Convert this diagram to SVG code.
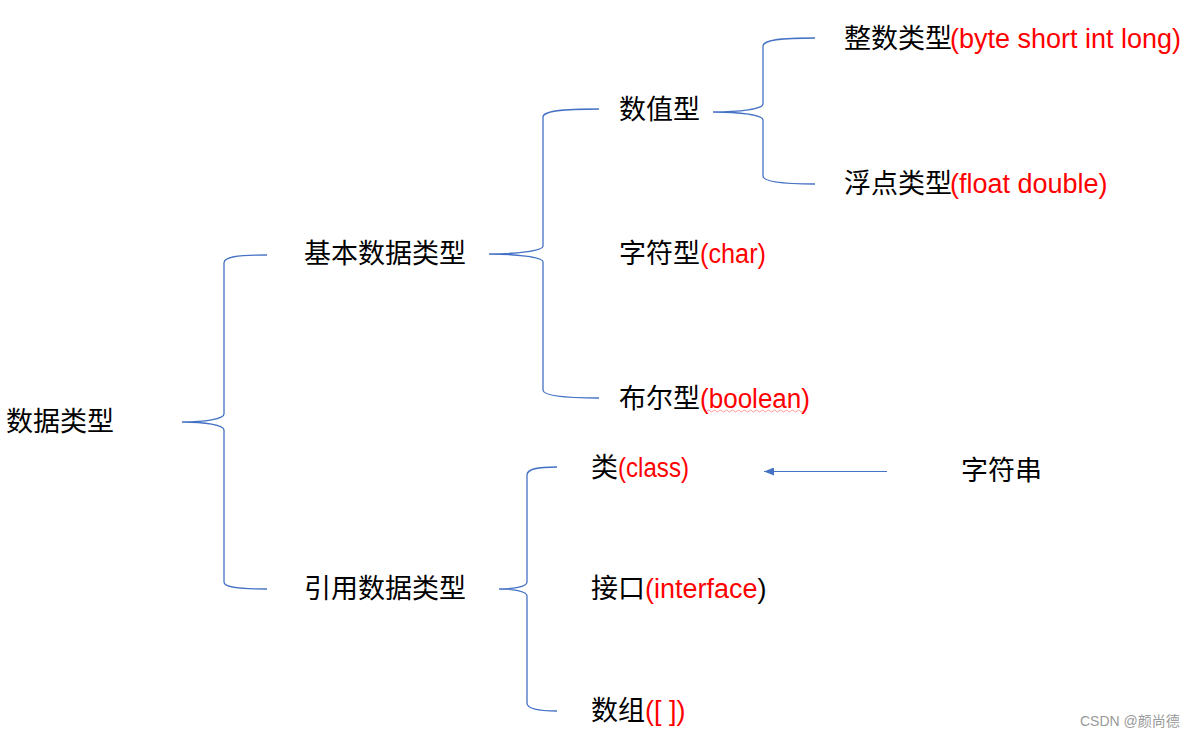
<svg xmlns="http://www.w3.org/2000/svg" width="1194" height="739" viewBox="0 0 1194 739">
<defs>
<marker id="ah" markerWidth="10" markerHeight="8" refX="10" refY="4" orient="auto" markerUnits="userSpaceOnUse">
<path d="M0,0 L10,4 L0,8 Z" fill="#4472C4"/>
</marker>
<style>
.br{fill:none;stroke:#4472C4;stroke-width:1.3}
.cn{font-family:"Noto Sans CJK SC","Liberation Sans",sans-serif;font-size:27px;fill:#000}
.en{font-family:"Liberation Sans","Noto Sans CJK SC",sans-serif;font-size:27px;fill:#FF0000}
.bk{fill:#000}
.wm{font-family:"Liberation Sans","Noto Sans CJK SC",sans-serif;font-size:14px;fill:#9a9a9a}
</style>
</defs>
<rect width="1194" height="739" fill="#fff"/>
<g id="connectors">
<path class="br" d="M267,255 C236,255 224,257 224,263 L224,414 C224,419 205,422 182,422 C205,422 224,425 224,430 L224,582 C224,587 236,589 267,589"/>
<path class="br" d="M599,109 C562,109 543,111 543,117 L543,246 C543,251 515,254 489,254 C515,254 543,257 543,262 L543,390 C543,395 562,398 599,398"/>
<path class="br" d="M815,38 C780,38 763,40 763,46 L763,104 C763,109 740,112 713,112 C740,112 763,115 763,120 L763,176 C763,181 780,184 815,184"/>
<path class="br" d="M557,467 C537,467 527,469 527,475 L527,582 C527,587 512,589 499,589 C512,589 527,591 527,596 L527,703 C527,708 537,711 557,711"/>
<line x1="887" y1="471.5" x2="764" y2="471.5" stroke="#4472C4" stroke-width="1.2" marker-end="url(#ah)"/>
</g>
<g id="n-root"><text class="cn" x="6" y="431">数据类型</text></g>
<g id="n-basic"><text class="cn" x="304" y="263">基本数据类型</text></g>
<g id="n-ref"><text class="cn" x="304" y="598">引用数据类型</text></g>
<g id="n-numeric"><text class="cn" x="619" y="119">数值型</text></g>
<g id="n-char"><text class="cn" x="619" y="263">字符型</text><text class="en" x="700" y="263" textLength="66" lengthAdjust="spacingAndGlyphs">(char)</text></g>
<g id="n-bool"><text class="cn" x="619" y="408">布尔型</text><text class="en" x="700" y="408" textLength="110" lengthAdjust="spacingAndGlyphs">(boolean)</text>
<path d="M707,411 q1.5,-2 3,0 t3,0 t3,0 t3,0 t3,0 t3,0 t3,0 t3,0 t3,0 t3,0 t3,0 t3,0 t3,0 t3,0 t3,0 t3,0 t3,0 t3,0 t3,0 t3,0 t3,0 t3,0 t3,0 t3,0 t3,0 t3,0 t3,0 t3,0 t3,0 t3,0 t3,0 t3,0" fill="none" stroke="#FF8080" stroke-width="0.8"/></g>
<g id="n-int"><text class="cn" x="844" y="48">整数类型</text><text class="en" x="950" y="48">(byte short int long)</text></g>
<g id="n-float"><text class="cn" x="844" y="193">浮点类型</text><text class="en" x="950" y="193">(float double)</text></g>
<g id="n-class"><text class="cn" x="591" y="477">类</text><text class="en" x="618" y="477" textLength="71" lengthAdjust="spacingAndGlyphs">(class)</text></g>
<g id="n-interface"><text class="cn" x="591" y="598">接口</text><text class="en" x="645" y="598">(interface<tspan class="bk">)</tspan></text></g>
<g id="n-array"><text class="cn" x="591" y="720">数组</text><text class="en" x="645" y="720">([ ])</text></g>
<g id="n-string"><text class="cn" x="961" y="480">字符串</text></g>
<text class="wm" x="1080" y="726">CSDN @颜尚德</text>
</svg>
